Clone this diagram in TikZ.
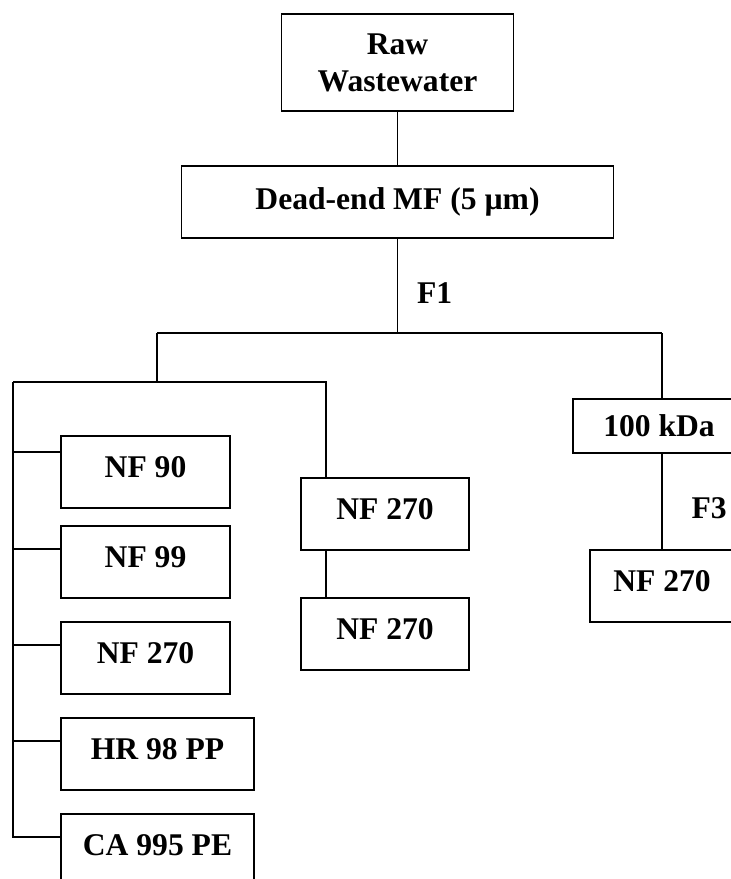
\documentclass[tikz,border=0pt]{standalone}
\usepackage{fontspec}
\setmainfont{Liberation Serif}
\usepackage{tikz}

\begin{document}
\begin{tikzpicture}[x=0.5pt,y=-0.5pt,line width=0.9pt,
	every node/.style={font=\bfseries\fontsize{15.8}{18.5}\selectfont},
	stage/.style={rectangle,draw,inner sep=0pt,minimum height=36pt},
	lowtext/.style={text height=10.5pt,text depth=5pt}]
			\clip (0,0) rectangle (731,879);
			\node[stage,align=center,minimum width=116pt,minimum height=48.5pt] (raw) at (397.5,62.5) {Raw\\Wastewater};
			\node[stage,minimum width=216pt] (mf) at (397.5,202) {Dead-end MF (5 µm)};
			
			\node[stage,lowtext,minimum width=84.5pt] (nf90) at (145.5,472) {NF 90};
			\node[stage,lowtext,minimum width=84.5pt] (nf99) at (145.5,562) {NF 99};
			\node[stage,lowtext,minimum width=84.5pt] (nf270) at (145.5,658) {NF 270};
			\node[stage,lowtext,minimum width=96.5pt] (hr98) at (157.5,754) {HR 98 PP};
			\node[stage,lowtext,minimum width=96.5pt] (ca995) at (157.5,850) {CA 995 PE};
			
			\node[stage,lowtext,minimum width=84pt] (mida) at (385,514) {NF 270};
			\node[stage,lowtext,minimum width=84pt] (midb) at (385,634) {NF 270};
			
			\node[stage,minimum width=86pt,minimum height=27pt] (kda) at (659,426) {100 kDa};
			\node[stage,lowtext,minimum width=72pt] (nfr) at (662,586) {NF 270};
			
			\coordinate (split) at (397.5,333);
			\coordinate (sl) at (157,333);
			\coordinate (sr) at (662,333);
			\coordinate (lbus) at (13,382);
			\coordinate (mbus) at (326,382);
			
			\draw (raw) -- (mf);
			\draw (mf) -- (split) node[pos=0.58,right=6pt] (f1) {F1};
			\draw (sl) -- (sr);
			\draw (sl) -- (sl |- lbus);
			\draw (lbus) |- ([yshift=-12pt]ca995.north west);
			\foreach \n/\s in {nf90/8.5,nf99/12,nf270/12,hr98/12}
				\draw ([yshift=-\s pt]\n.north west) -| (lbus);
			\draw (lbus) -- (mbus) -- (mbus |- mida.north);
			\draw (mida.south -| mbus) -- (midb.north -| mbus);
			\draw (sr) -- (sr |- kda.north);
			\draw (kda.south -| sr) -- (nfr.north -| sr) node[pos=0.57,right=11pt] (f3) {F3};
		\end{tikzpicture}
\end{document}
